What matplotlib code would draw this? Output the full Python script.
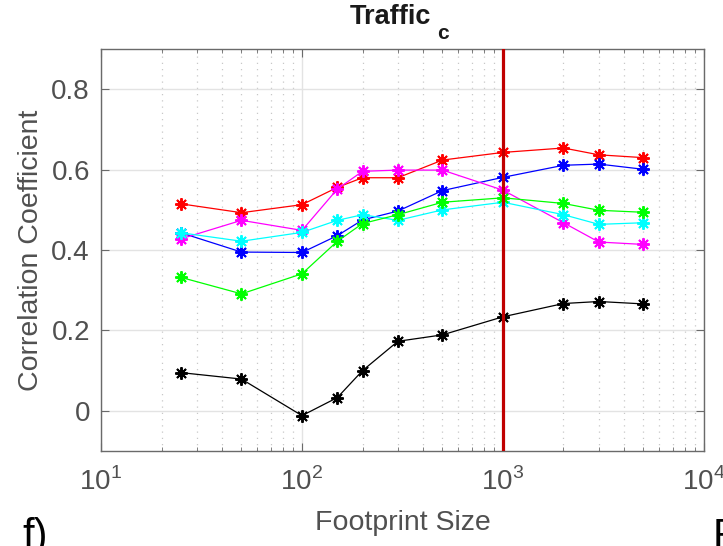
import numpy as np
import matplotlib
matplotlib.use("Agg")
import matplotlib.pyplot as plt
from matplotlib.ticker import LogLocator, NullFormatter, FixedLocator

plt.rcParams["font.family"] = ["Liberation Sans", "DejaVu Sans"]
plt.rcParams["mathtext.fontset"] = "custom"
plt.rcParams["mathtext.rm"] = "Liberation Sans"
plt.rcParams["mathtext.bf"] = "Liberation Sans:bold"

# footprint sizes and correlation per series
footprint = [25, 50, 100, 150, 200, 300, 500, 1000, 2000, 3000, 5000]
corr_red     = [0.515, 0.493, 0.513, 0.556, 0.580, 0.580, 0.624, 0.643, 0.654, 0.637, 0.630]
corr_blue    = [0.443, 0.395, 0.394, 0.436, 0.475, 0.497, 0.548, 0.581, 0.611, 0.614, 0.601]
corr_magenta = [0.428, 0.474, 0.449, 0.552, 0.596, 0.599, 0.599, 0.549, 0.468, 0.420, 0.414]
corr_cyan    = [0.443, 0.422, 0.444, 0.474, 0.488, 0.474, 0.500, 0.519, 0.488, 0.464, 0.468]
corr_green   = [0.332, 0.291, 0.341, 0.422, 0.466, 0.488, 0.519, 0.530, 0.516, 0.499, 0.494]
corr_black   = [0.095, 0.079, -0.012, 0.033, 0.100, 0.173, 0.189, 0.234, 0.267, 0.272, 0.266]
cutoff = 1000

series = [
    (corr_red, "#ff0000"),
    (corr_blue, "#0000ff"),
    (corr_magenta, "#ff00ff"),
    (corr_cyan, "#00ffff"),
    (corr_green, "#00ff00"),
    (corr_black, "#000000"),
]

fig = plt.figure(figsize=(7.23, 5.46), dpi=100)
ax = fig.add_axes([0.1397, 0.174, 0.834, 0.736])

for vals, col in series:
    ax.plot(footprint, vals, color=col, linewidth=0.9, marker=(8, 2, 0),
            markersize=9, markeredgewidth=1.4, markeredgecolor=col, zorder=3)

ax.axvline(cutoff, color="#c00000", linewidth=2.3, zorder=4)

ax.set_xscale("log")
ax.set_xlim(10, 10000)
ax.set_ylim(-0.1, 0.9)
ax.set_yticks([0, 0.2, 0.4, 0.6, 0.8])
ax.set_yticklabels(["0", "0.2", "0.4", "0.6", "0.8"])
ax.xaxis.set_major_locator(FixedLocator([10, 100, 1000, 10000]))
ax.xaxis.set_minor_locator(LogLocator(base=10, subs=np.arange(2, 10)))
ax.xaxis.set_minor_formatter(NullFormatter())
ax.set_xticklabels([r"$10^{1}$", r"$10^{2}$", r"$10^{3}$", r"$10^{4}$"])

ax.grid(True, which="major", color="#e3e3e3", linewidth=1.0, linestyle="-", zorder=0)
ax.grid(True, which="minor", axis="x", color="#c8c8c8", linewidth=0.9,
        linestyle=(0, (1, 4)), zorder=0)
ax.set_axisbelow(True)

for s in ax.spines.values():
    s.set_color("#6a6a6a")
    s.set_linewidth(1.0)
ax.tick_params(which="both", direction="in", top=True, right=True,
               color="#6a6a6a", labelcolor="#505050", labelsize=20, pad=8)
ax.tick_params(which="major", length=6)
ax.tick_params(which="minor", length=3)
ax.tick_params(axis="x", which="major", pad=12)

ax.set_xlabel("Footprint Size", fontsize=20.5, color="#505050", labelpad=10)
ax.set_ylabel("Correlation Coefficient", fontsize=20.5, color="#505050", labelpad=5)

# bold title with a lowered subscript
fig.text(431 / 723, 1 - 24 / 546, "Traffic", fontsize=19.5, fontweight="bold",
         color="#1a1a1a", ha="right", va="baseline")
fig.text(437 / 723, 1 - 39 / 546, "c", fontsize=15, fontweight="bold",
         color="#1a1a1a", ha="left", va="baseline")

fig.text(22 / 723, -0.004, "f)", fontsize=30, color="#000000", ha="left", va="baseline")
fig.text(713 / 723, -0.004, "P", fontsize=30, color="#000000", ha="left", va="baseline")

fig.savefig("out.png", dpi=100, facecolor="white")
